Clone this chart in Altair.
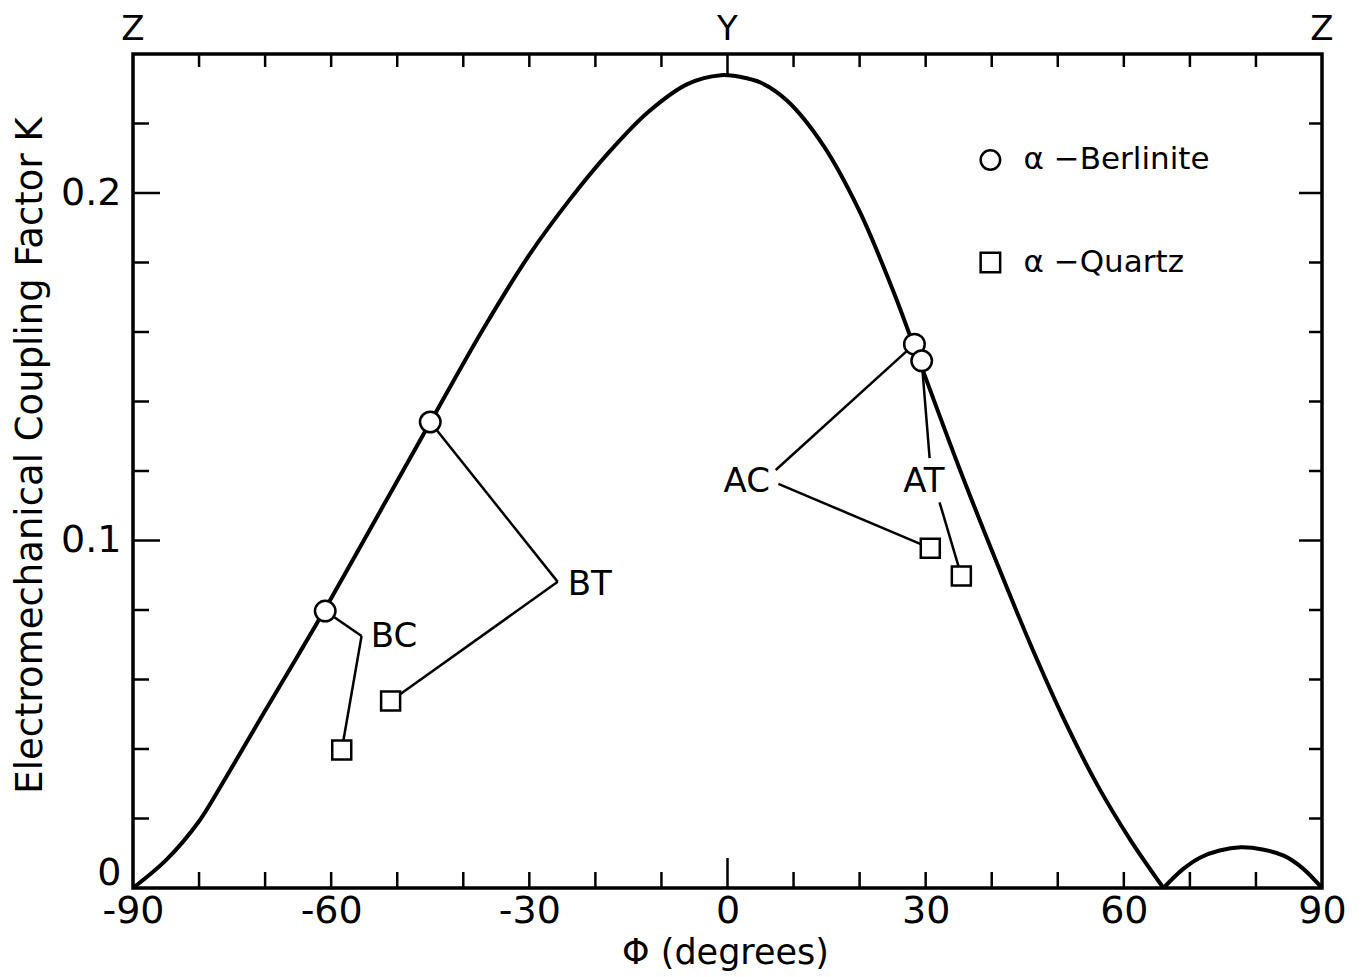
import altair as alt
import pandas as pd

# ---------------- data ----------------
main_phi = [-90, -85, -80, -76, -70, -65, -61, -53, -45, -37, -30, -24, -18, -12, -6, -1,
            2, 5, 9, 14.5, 20, 25, 28.3, 35, 41, 46, 51, 56, 61, 66]
main_K = [0, 0.0080, 0.0192, 0.0316, 0.051, 0.067, 0.080, 0.107, 0.134, 0.1608, 0.1822,
          0.1978, 0.2116, 0.2233, 0.2314, 0.2339, 0.2334, 0.2318, 0.2266, 0.2137, 0.1947,
          0.1722, 0.1555, 0.1213, 0.0925, 0.0695, 0.0483, 0.0296, 0.0138, 0]

bump_phi = [66, 69, 71.6, 74.5, 77.7, 81, 84.2, 87, 90]
bump_K = [0, 0.0055, 0.0088, 0.0108, 0.0117, 0.0111, 0.0093, 0.0058, 0]

cut_names = ["BC", "BT", "AC", "AT"]
berl_phi = [-60.9, -45.0, 28.3, 29.4]
berl_K = [0.0797, 0.1341, 0.1565, 0.1517]
quartz_phi = [-58.4, -51.0, 30.7, 35.4]
quartz_K = [0.0397, 0.0538, 0.0978, 0.0898]

# leader line segments (phi1, K1, phi2, K2)
lead_phi1 = [-60.9, -55.4, -45.0, -25.7, 28.3, 7.7, 29.4, 32.1]
lead_K1 = [0.0797, 0.0725, 0.1341, 0.0881, 0.1565, 0.1163, 0.1517, 0.1110]
lead_phi2 = [-55.4, -58.4, -25.7, -51.0, 7.3, 30.7, 30.6, 35.4]
lead_K2 = [0.0725, 0.0397, 0.0881, 0.0538, 0.1203, 0.0978, 0.1237, 0.0898]

label_phi = [-54.0, -24.2, -0.6, 26.6]
label_K = [0.0722, 0.0872, 0.1168, 0.1168]

legend_names = ["α −Berlinite", "α −Quartz"]
legend_shapes = ["circle", "square"]
legend_phi = 39.8
legend_text_phi = 44.8
legend_K = [0.2095, 0.1800]

top_ticks_val = [-90, 0, 90]
top_ticks_lab = ["Z", "Y", "Z"]

x_minor = [-80, -70, -60, -50, -40, -30, -20, -10, 10, 20, 30, 40, 50, 60, 70, 80]
x_major = [0]
y_minor = [0.02, 0.04, 0.06, 0.08, 0.12, 0.14, 0.16, 0.18, 0.22]
y_major = [0.1, 0.2]

# ---------------- chart ----------------
W, H = 1189, 834
FONT = "DejaVu Sans"
xs = alt.Scale(domain=[-90, 90], nice=False, zero=False)
ys = alt.Scale(domain=[0, 0.24], nice=False, zero=False)

ax_x = alt.Axis(
    values=[-90, -60, -30, 0, 30, 60, 90],
    labelExpr="replace(datum.label, '−', '-')",
    ticks=False, domain=False, grid=False, labelFlush=False,
    labelFont=FONT, labelFontSize=38, labelColor="black", labelPadding=4,
    title="Φ (degrees)", titleFont=FONT, titleFontSize=35, titleFontWeight="normal",
    titleColor="black", titleX=592, titleY=64, titleBaseline="middle",
)
ax_y = alt.Axis(
    values=[0, 0.1, 0.2],
    labelExpr="datum.value == 0 ? '0' : format(datum.value, '.1f')",
    ticks=False, domain=False, grid=False, labelFlush=False,
    labelOffset={"condition": {"test": "datum.value == 0", "value": -15}, "value": 0},
    labelFont=FONT, labelFontSize=38, labelColor="black", labelPadding=12,
    title="Electromechanical Coupling Factor K", titleFont=FONT, titleFontSize=37,
    titleFontWeight="normal", titleColor="black", titleX=-103, titleY=401,
    titleBaseline="middle", titleAngle=270,
)


def X(f):
    return alt.X(f, scale=xs, axis=ax_x)


def Y(f):
    return alt.Y(f, scale=ys, axis=ax_y)


curve_df = pd.DataFrame({
    "phi": main_phi + bump_phi,
    "K": main_K + bump_K,
    "lobe": ["main"] * len(main_phi) + ["bump"] * len(bump_phi),
})

curve = alt.Chart(curve_df).mark_line(
    color="black", strokeWidth=4, interpolate="catmull-rom"
).encode(x=X("phi:Q"), y=Y("K:Q"), detail="lobe:N")

lead_df = pd.DataFrame({"p1": lead_phi1, "k1": lead_K1, "p2": lead_phi2, "k2": lead_K2})
leaders = alt.Chart(lead_df).mark_rule(color="black", strokeWidth=2.5).encode(
    x=X("p1:Q"), y=Y("k1:Q"), x2="p2:Q", y2="k2:Q",
)

berl_df = pd.DataFrame({"phi": berl_phi, "K": berl_K, "cut": cut_names})
berl = alt.Chart(berl_df).mark_point(
    shape="circle", filled=True, fill="white", stroke="black", strokeWidth=2.5,
    size=420, opacity=1
).encode(x=X("phi:Q"), y=Y("K:Q"))

quartz_df = pd.DataFrame({"phi": quartz_phi, "K": quartz_K, "cut": cut_names})
quartz = alt.Chart(quartz_df).mark_point(
    shape="square", filled=True, fill="white", stroke="black", strokeWidth=2.5,
    size=361, opacity=1
).encode(x=X("phi:Q"), y=Y("K:Q"))

lab_df = pd.DataFrame({"phi": label_phi, "K": label_K, "cut": cut_names})
labels = alt.Chart(lab_df).mark_text(
    font=FONT, fontSize=34, align="left", baseline="middle", color="black"
).encode(x=X("phi:Q"), y=Y("K:Q"), text="cut:N")

leg_df = pd.DataFrame({"name": legend_names, "shape": legend_shapes, "K": legend_K,
                       "phi": [legend_phi] * 2, "tphi": [legend_text_phi] * 2})
leg_sym = alt.Chart(leg_df).mark_point(
    filled=True, fill="white", stroke="black", strokeWidth=2.5, size=380, opacity=1
).encode(
    x=X("phi:Q"), y=Y("K:Q"),
    shape=alt.Shape("shape:N", scale=alt.Scale(domain=["circle", "square"],
                                                range=["circle", "square"]), legend=None),
)
leg_txt = alt.Chart(leg_df).mark_text(
    font=FONT, fontSize=31, align="left", baseline="middle", color="black"
).encode(x=X("tphi:Q"), y=Y("K:Q"), text="name:N")

top_df = pd.DataFrame({"v": top_ticks_val, "lab": top_ticks_lab})
top_labels = alt.Chart(top_df).mark_text(
    font=FONT, fontSize=34, align="center", baseline="middle", color="black"
).encode(x=X("v:Q"), y=alt.value(-24), text="lab:N")


def xticks(vals, y1, y2):
    return alt.Chart(pd.DataFrame({"v": vals})).mark_rule(color="black", strokeWidth=2.5).encode(
        x=X("v:Q"), y=alt.value(y1), y2=alt.value(y2))


def yticks(vals, x1, x2):
    return alt.Chart(pd.DataFrame({"v": vals})).mark_rule(color="black", strokeWidth=2.5).encode(
        y=Y("v:Q"), x=alt.value(x1), x2=alt.value(x2))


ticks = [
    xticks(x_minor, H, H - 16), xticks(x_major, H, H - 30),
    xticks(x_minor, 0, 13), xticks(x_major, 0, 20),
    yticks(y_minor, 0, 16), yticks(y_major, 0, 27),
    yticks(y_minor, W, W - 13), yticks(y_major, W, W - 23),
]

chart = alt.layer(
    curve, leaders, berl, quartz, labels, leg_sym, leg_txt, top_labels, *ticks
).properties(
    width=W, height=H,
    autosize=alt.AutoSizeParams(type="none"),
    padding={"left": 125, "top": 46, "right": 30, "bottom": 110},
    background="white",
).configure_view(
    stroke="black", strokeWidth=3.5
)

chart.save("out.html", embed_options={"renderer": "svg", "actions": False})
